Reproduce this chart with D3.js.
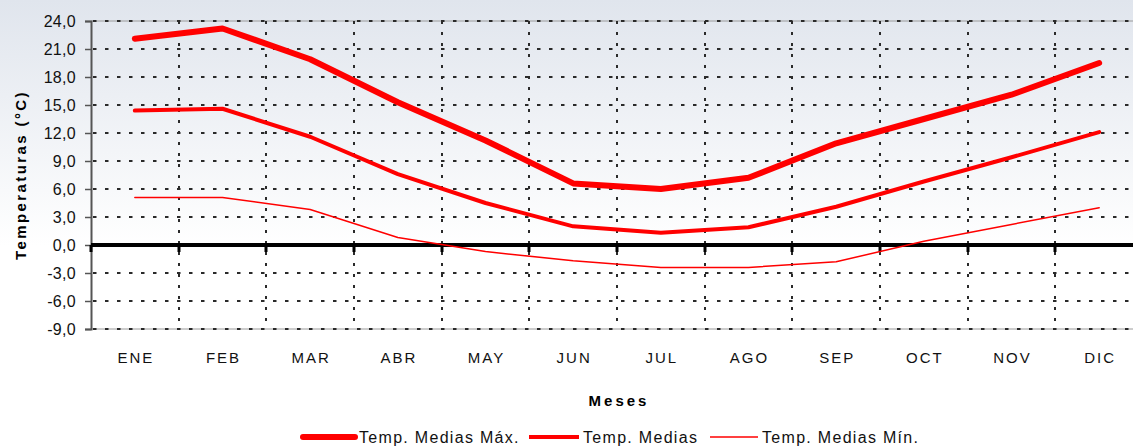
<!DOCTYPE html>
<html><head><meta charset="utf-8">
<script src="https://cdn.jsdelivr.net/npm/d3@7/dist/d3.min.js"></script>
<style>body{margin:0;background:#fff;overflow:hidden}svg{display:block;font-family:"Liberation Sans",Arial,sans-serif}</style>
</head><body><svg id="c" width="1133" height="448"></svg>
<script>
const months = ["ENE","FEB","MAR","ABR","MAY","JUN","JUL","AGO","SEP","OCT","NOV","DIC"];
const tMax = [22.1,23.2,19.9,15.3,11.2,6.6,6.0,7.2,10.9,13.5,16.1,19.5];
const tMed = [14.4,14.6,11.6,7.6,4.5,2.0,1.3,1.9,4.1,6.8,9.4,12.1];
const tMin = [5.1,5.1,3.8,0.8,-0.7,-1.7,-2.4,-2.4,-1.8,0.4,2.2,4.0];
const yTicks = [24,21,18,15,12,9,6,3,0,-3,-6,-9];
const seriesNames = ["Temp. Medias Máx.","Temp. Medias","Temp. Medias Mín."];

const svg = d3.select("#c");
const W=1133,H=448;
const L=91, R=1143, T=21, B=329;

const defs = svg.append("defs");
const g = defs.append("linearGradient").attr("id","bg").attr("x1",0).attr("y1",0).attr("x2",0).attr("y2",1);
g.append("stop").attr("offset","0%").attr("stop-color","#e0e5ed");
g.append("stop").attr("offset","55%").attr("stop-color","#ffffff");
g.append("stop").attr("offset","100%").attr("stop-color","#ffffff");
svg.append("rect").attr("width",W).attr("height",H).attr("fill","url(#bg)");

const x = d3.scaleBand().domain(months).range([L,R]).padding(0);
const y = d3.scaleLinear().domain([-9,24]).range([B,T]);
const fmt = v => d3.format(".1f")(v).replace(".",",").replace("−","-");

// horizontal grid
yTicks.forEach(v=>{
  if(v===0) return;
  if(v===24||v===-9){
    svg.append("line").attr("x1",L).attr("x2",W).attr("y1",y(v)).attr("y2",y(v))
      .attr("stroke","#9a9a9a").attr("stroke-width",1);
  }
  svg.append("line").attr("x1",L+2).attr("x2",W).attr("y1",y(v)).attr("y2",y(v))
    .attr("stroke","#2a2a2a").attr("stroke-width",2).attr("stroke-dasharray","3.5,8.5");
});
// vertical grid at band boundaries
months.slice(1).forEach(m=>{
  const xx = Math.round(x(m));
  svg.append("line").attr("x1",xx).attr("x2",xx).attr("y1",T).attr("y2",B)
    .attr("stroke","#2a2a2a").attr("stroke-width",2).attr("stroke-dasharray","3,8");
});

// y axis
const yAxis = d3.axisLeft(y).tickValues(yTicks).tickFormat(fmt).tickSize(6).tickPadding(9);
const ya = svg.append("g").attr("transform",`translate(${L},0)`).call(yAxis);
ya.select(".domain").attr("stroke","#555").attr("stroke-width",2);
ya.selectAll(".tick line").attr("stroke","#555").attr("stroke-width",1.5);
ya.selectAll(".tick text").attr("fill","#111").style("font-size","16px").style("letter-spacing","0.3px")
  .style("font-family","Liberation Sans, Arial");

// zero line with ticks
svg.append("line").attr("x1",L).attr("x2",W).attr("y1",y(0)).attr("y2",y(0))
  .attr("stroke","#000").attr("stroke-width",4);
months.forEach(m=>{
  const xx = Math.round(x(m));
  svg.append("line").attr("x1",xx).attr("x2",xx).attr("y1",y(0)).attr("y2",y(0)+7)
    .attr("stroke","#000").attr("stroke-width",3);
});

// x labels
svg.append("g").selectAll("text").data(months).join("text")
  .attr("x",d=>x(d)+x.bandwidth()/2+1).attr("y",363)
  .attr("text-anchor","middle").style("font-size","15px").style("letter-spacing","2px")
  .attr("fill","#111").text(d=>d);

// axis titles
svg.append("text").attr("x",619).attr("y",406).attr("text-anchor","middle")
  .style("font-size","15px").style("font-weight","bold").style("letter-spacing","3px").text("Meses");
svg.append("text").attr("transform",`translate(26,${(T+B)/2}) rotate(-90)`).attr("text-anchor","middle")
  .style("font-size","15px").style("font-weight","bold").style("letter-spacing","2.4px").text("Temperaturas (°C)");

// lines
const series = [tMax,tMed,tMin];
const widths = [6,4,1.5];
const line = d3.line().x((d,i)=>x(months[i])+x.bandwidth()/2).y(d=>y(d));
series.forEach((s,k)=>{
  svg.append("path").datum(s).attr("d",line).attr("fill","none")
    .attr("stroke","#ff0000").attr("stroke-width",widths[k])
    .attr("stroke-linejoin","round").attr("stroke-linecap","round");
});

// legend
const legX = [303,529,710], legW = [52,50,48], legY = 437;
seriesNames.forEach((n,k)=>{
  svg.append("line").attr("x1",legX[k]).attr("x2",legX[k]+legW[k]).attr("y1",legY).attr("y2",legY)
    .attr("stroke","#ff0000").attr("stroke-width",widths[k]).attr("stroke-linecap",k===0?"round":"butt");
  svg.append("text").attr("x",legX[k]+legW[k]+4).attr("y",legY+6).style("font-size","16px")
    .style("letter-spacing","1.3px").attr("fill","#111").text(n);
});
</script></body></html>
